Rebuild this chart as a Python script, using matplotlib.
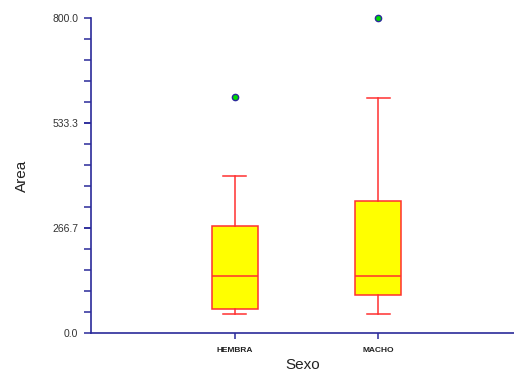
import matplotlib.pyplot as plt
from matplotlib.ticker import MultipleLocator, FixedLocator

plt.rcParams["font.family"] = ["Liberation Sans", "DejaVu Sans"]

# Box statistics (Area by Sexo)
groups = ["HEMBRA", "MACHO"]
whislo = [48, 48]
q1 = [60, 97]
med = [144, 144]
q3 = [273, 334]
whishi = [400, 597]
fliers = [[600], [800]]

stats = []
for i, name in enumerate(groups):
    stats.append(dict(label=name, whislo=whislo[i], q1=q1[i], med=med[i],
                      q3=q3[i], whishi=whishi[i], fliers=fliers[i]))

axis_col = "#2a2a9a"
red = "#ff3030"

fig = plt.figure(figsize=(5.14, 3.75), dpi=100)
ax = fig.add_axes([91 / 514, 42 / 375, 1 - 91 / 514, 315 / 375])

bp = ax.bxp(stats, positions=[1, 2], widths=0.32, patch_artist=True,
            boxprops=dict(facecolor="#ffff00", edgecolor=red, linewidth=1.1),
            medianprops=dict(color=red, linewidth=1.1),
            whiskerprops=dict(color=red, linewidth=1.1),
            capprops=dict(color=red, linewidth=1.1),
            capwidths=0.16,
            flierprops=dict(marker="o", markerfacecolor="#00dd00",
                            markeredgecolor=axis_col, markersize=4.5,
                            markeredgewidth=1))
for f in bp["fliers"]:
    f.set_clip_on(False)

ax.set_xlim(0, 2.944)
ax.set_ylim(0, 800)

for s in ["top", "right"]:
    ax.spines[s].set_visible(False)
for s in ["left", "bottom"]:
    ax.spines[s].set_color(axis_col)
    ax.spines[s].set_linewidth(1.2)

ax.yaxis.set_major_locator(FixedLocator([0, 266.7, 533.3, 800]))
ax.yaxis.set_minor_locator(MultipleLocator(800 / 15))
ax.set_yticklabels(["0.0", "266.7", "533.3", "800.0"])
ax.tick_params(axis="y", which="both", length=5, width=1.1, color=axis_col,
               labelsize=7.5, labelcolor="#333333", pad=4)
ax.tick_params(axis="x", length=4, width=1.1, color=axis_col, labelsize=6,
               labelcolor="#222222", pad=6)
for lbl in ax.get_xticklabels():
    lbl.set_fontweight("bold")

ax.set_ylabel("Area", fontsize=11, color="#222222", labelpad=17)
ax.set_xlabel("Sexo", fontsize=11, color="#222222", labelpad=3)

fig.savefig("out.png", dpi=100)
